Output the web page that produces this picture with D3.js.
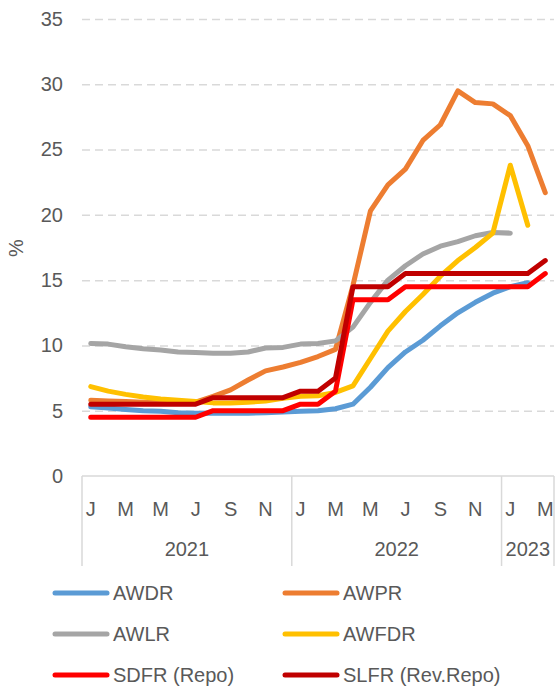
<!DOCTYPE html>
<html>
<head>
<meta charset="utf-8">
<script src="https://cdn.jsdelivr.net/npm/d3@7"></script>
<style>
  body { margin: 0; background: #fff; }
  svg text { font-family: "Liberation Sans", Arial, sans-serif; fill: #595959; }
</style>
</head>
<body>
<div id="chart"></div>
<script>
// month initials, Jan 2021 .. Mar 2023
var monthLetters = ["J","F","M","A","M","J","J","A","S","O","N","D",
                    "J","F","M","A","M","J","J","A","S","O","N","D",
                    "J","F","M"];
var years = ["2021", "2022", "2023"];
var yearMonthCounts = [12, 12, 3];
var yTicks = [0, 5, 10, 15, 20, 25, 30, 35];

var seriesNames = ["AWDR", "AWPR", "AWLR", "AWFDR", "SDFR (Repo)", "SLFR (Rev.Repo)"];
var seriesColors = ["#5B9BD5", "#ED7D31", "#A5A5A5", "#FFC000", "#FF0000", "#C00000"];

var awdr = [5.3, 5.2, 5.1, 5.0, 4.95, 4.85, 4.8, 4.8, 4.8, 4.8, 4.85, 4.9,
            4.95, 5.0, 5.15, 5.5, 6.8, 8.3, 9.5, 10.4, 11.5, 12.5, 13.3, 14.0,
            14.5, 14.8, null];
var awpr = [5.8, 5.75, 5.7, 5.65, 5.65, 5.65, 5.65, 6.1, 6.6, 7.35, 8.05, 8.35,
            8.7, 9.15, 9.7, 14.6, 20.3, 22.3, 23.5, 25.7, 26.9, 29.5, 28.6, 28.5,
            27.6, 25.3, 21.7];
var awlr = [10.15, 10.1, 9.9, 9.75, 9.65, 9.5, 9.45, 9.4, 9.4, 9.5, 9.8, 9.85,
            10.1, 10.15, 10.35, 11.4, 13.3, 15.0, 16.1, 17.0, 17.6, 17.95, 18.4, 18.65,
            18.6, null, null];
var awfdr = [6.85, 6.5, 6.25, 6.05, 5.9, 5.8, 5.7, 5.6, 5.6, 5.65, 5.75, 5.95,
             6.1, 6.15, 6.4, 6.9, 9.0, 11.1, 12.6, 13.9, 15.3, 16.5, 17.5, 18.6,
             23.8, 19.2, null];
var sdfr = [4.5, 4.5, 4.5, 4.5, 4.5, 4.5, 4.5, 5.0, 5.0, 5.0, 5.0, 5.0,
            5.5, 5.5, 6.5, 13.5, 13.5, 13.5, 14.5, 14.5, 14.5, 14.5, 14.5, 14.5,
            14.5, 14.5, 15.5];
var slfr = [5.5, 5.5, 5.5, 5.5, 5.5, 5.5, 5.5, 6.0, 6.0, 6.0, 6.0, 6.0,
            6.5, 6.5, 7.5, 14.5, 14.5, 14.5, 15.5, 15.5, 15.5, 15.5, 15.5, 15.5,
            15.5, 15.5, 16.5];

var seriesValues = [awdr, awpr, awlr, awfdr, sdfr, slfr];

var width = 555, height = 688;
var plot = { left: 82, right: 554, top: 19, bottom: 476 };

var svg = d3.select("#chart").append("svg")
  .attr("width", width)
  .attr("height", height);

var x = d3.scaleBand()
  .domain(d3.range(monthLetters.length))
  .range([plot.left, plot.right])
  .paddingInner(0).paddingOuter(0);
var xc = function (i) { return x(i) + x.bandwidth() / 2; };

var y = d3.scaleLinear().domain([0, 35]).range([plot.bottom, plot.top]);

// dashed gridlines
var grid = svg.append("g")
  .attr("transform", "translate(" + plot.left + ",0)")
  .call(d3.axisLeft(y).tickValues(yTicks.slice(1)).tickSize(-(plot.right - plot.left)).tickFormat(""));
grid.select(".domain").remove();
grid.selectAll("line")
  .attr("stroke", "#D9D9D9")
  .attr("stroke-width", 1.5)
  .attr("stroke-dasharray", "8,5");

// y tick labels
var yAxis = svg.append("g")
  .attr("transform", "translate(63,0)")
  .call(d3.axisLeft(y).tickValues(yTicks).tickSize(0).tickPadding(0));
yAxis.select(".domain").remove();
yAxis.selectAll("text")
  .attr("font-size", 20)
  .attr("font-family", null)
  .attr("fill", null);

svg.append("text")
  .attr("transform", "translate(18,248) rotate(-90)")
  .attr("text-anchor", "middle")
  .attr("dominant-baseline", "middle")
  .attr("font-size", 20)
  .text("%");

// x axis baseline
svg.append("line")
  .attr("x1", plot.left).attr("x2", plot.right)
  .attr("y1", plot.bottom).attr("y2", plot.bottom)
  .attr("stroke", "#D9D9D9").attr("stroke-width", 1.5);

// year group separators
var boundaries = [0];
yearMonthCounts.forEach(function (n, k) { boundaries.push(boundaries[k] + n); });
svg.selectAll(".sep")
  .data(boundaries)
  .enter().append("line")
  .attr("class", "sep")
  .attr("x1", function (b) { return b < monthLetters.length ? x(b) : plot.right; })
  .attr("x2", function (b) { return b < monthLetters.length ? x(b) : plot.right; })
  .attr("y1", plot.bottom).attr("y2", 566)
  .attr("stroke", "#D9D9D9").attr("stroke-width", 1.5);

// month letters, every other month
svg.selectAll(".month")
  .data(monthLetters.map(function (m, i) { return { m: m, i: i }; })
    .filter(function (d) { return d.i % 2 === 0; }))
  .enter().append("text")
  .attr("class", "month")
  .attr("x", function (d) { return xc(d.i); })
  .attr("y", 509)
  .attr("text-anchor", "middle")
  .attr("dominant-baseline", "central")
  .attr("font-size", 20)
  .text(function (d) { return d.m; });

// year labels
svg.selectAll(".year")
  .data(years)
  .enter().append("text")
  .attr("class", "year")
  .attr("x", function (d, k) {
    var a = x(boundaries[k]);
    var bIdx = boundaries[k + 1];
    var b = bIdx < monthLetters.length ? x(bIdx) : plot.right;
    return (a + b) / 2;
  })
  .attr("y", 549)
  .attr("text-anchor", "middle")
  .attr("dominant-baseline", "central")
  .attr("font-size", 20)
  .text(function (d) { return d; });

// series lines
var line = d3.line()
  .defined(function (d) { return d != null; })
  .x(function (d, i) { return xc(i); })
  .y(function (d) { return y(d); });

svg.selectAll(".series")
  .data(seriesValues)
  .enter().append("path")
  .attr("class", "series")
  .attr("d", line)
  .attr("fill", "none")
  .attr("stroke", function (d, k) { return seriesColors[k]; })
  .attr("stroke-width", 5)
  .attr("stroke-linejoin", "round")
  .attr("stroke-linecap", "round");

// legend
var legend = svg.selectAll(".legend")
  .data(seriesNames)
  .enter().append("g")
  .attr("class", "legend")
  .attr("transform", function (d, k) {
    return "translate(" + (k % 2 === 0 ? 53 : 283) + "," + (593 + Math.floor(k / 2) * 41) + ")";
  });
legend.append("line")
  .attr("x1", 2).attr("x2", 54)
  .attr("stroke", function (d, k) { return seriesColors[k]; })
  .attr("stroke-width", 5)
  .attr("stroke-linecap", "round");
legend.append("text")
  .attr("x", 60)
  .attr("dominant-baseline", "central")
  .attr("font-size", 20)
  .text(function (d) { return d; });
</script>
</body>
</html>
